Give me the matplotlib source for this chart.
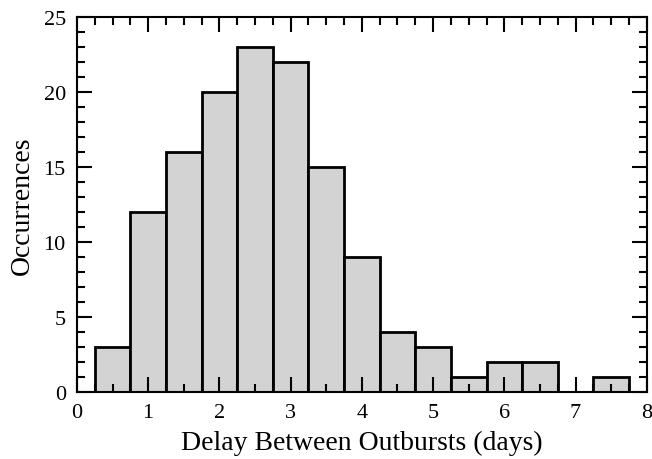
import matplotlib
matplotlib.use('Agg')
import matplotlib.pyplot as plt
import numpy as np
from matplotlib.ticker import MultipleLocator

# histogram of delays between outbursts (bins of 0.5 day)
bin_edges = [0.25, 0.75, 1.25, 1.75, 2.25, 2.75, 3.25, 3.75, 4.25, 4.75,
             5.25, 5.75, 6.25, 6.75, 7.25, 7.75]
counts = [3, 12, 16, 20, 23, 22, 15, 9, 4, 3, 1, 2, 2, 0, 1]

plt.rcParams['font.family'] = ['Liberation Serif', 'DejaVu Serif']

fig = plt.figure(figsize=(6.52, 4.6), dpi=100)
ax = fig.add_axes([0.118, 0.146, 0.874, 0.815])

centers = np.array(bin_edges[:-1])
ax.hist(centers + 0.25, bins=bin_edges, weights=counts,
        facecolor='lightgray', edgecolor='black', linewidth=2)

ax.set_xlim(0, 8)
ax.set_ylim(0, 25)
ax.xaxis.set_major_locator(MultipleLocator(1))
ax.xaxis.set_minor_locator(MultipleLocator(0.25))
ax.yaxis.set_major_locator(MultipleLocator(5))
ax.yaxis.set_minor_locator(MultipleLocator(1))
ax.tick_params(which='both', direction='in', top=True, right=True,
               labelsize=16, width=1.5)
ax.tick_params(which='major', length=10.5, pad=8)
ax.tick_params(which='minor', length=5.5)
for s in ax.spines.values():
    s.set_linewidth(1.5)

ax.set_xlabel('Delay Between Outbursts (days)', fontsize=20, labelpad=6)
ax.set_ylabel('Occurrences', fontsize=20, labelpad=6)

fig.savefig('out.png', dpi=100)
